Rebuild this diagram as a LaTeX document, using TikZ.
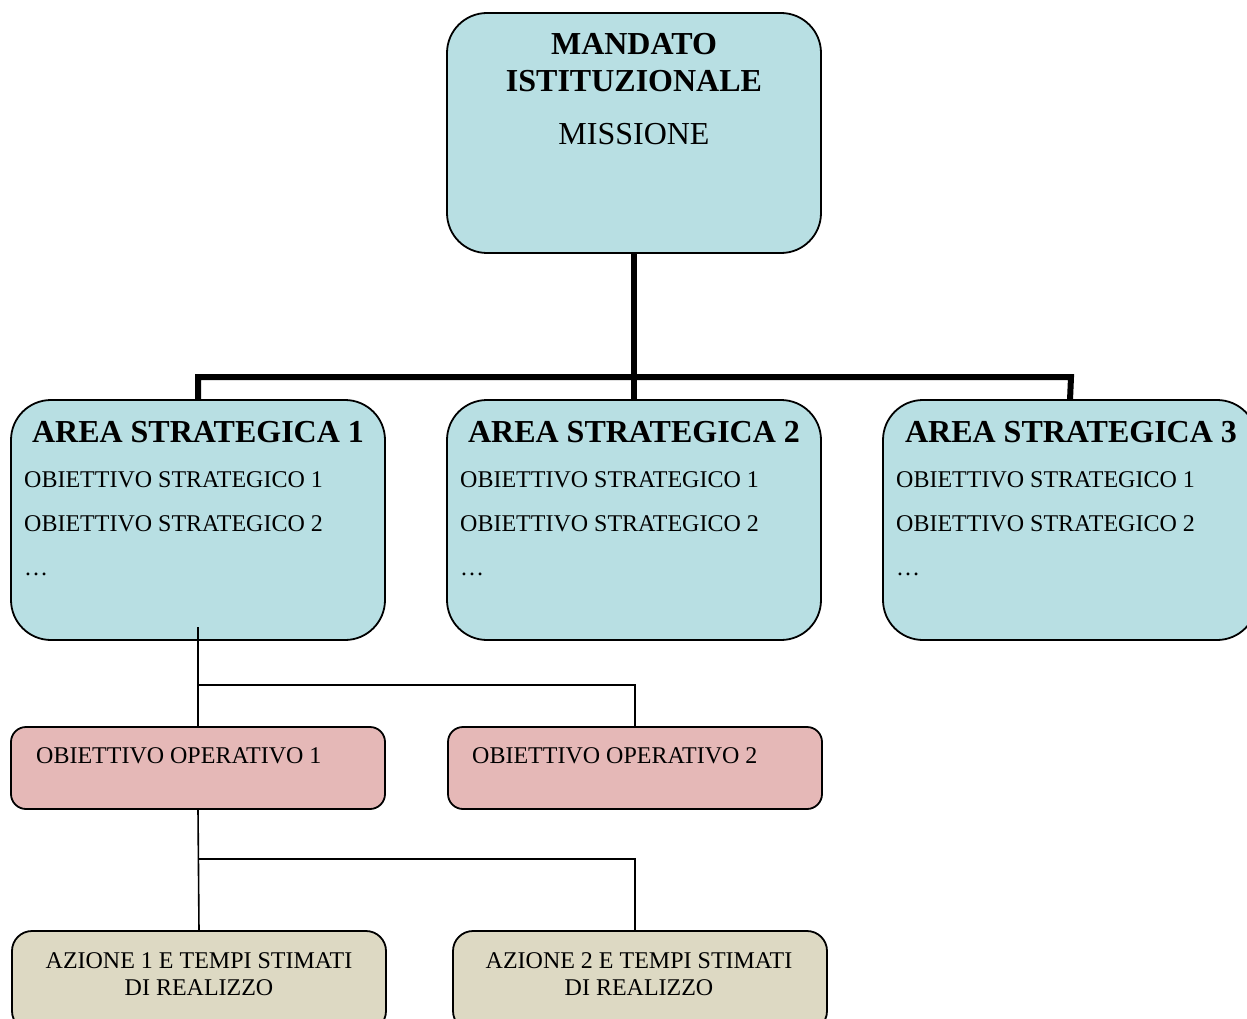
\documentclass[tikz,border=0pt]{standalone}
\usepackage{fontspec}
\setmainfont{Liberation Serif}
\definecolor{bluebox}{HTML}{B8DFE3}
\definecolor{pinkbox}{HTML}{E5B8B7}
\definecolor{beigebox}{HTML}{DDD9C3}
\begin{document}
\begin{tikzpicture}[x=1pt,y=-1pt,
  boxbase/.style={draw=black,line width=1.8pt,anchor=north west,inner sep=0pt,outer sep=0pt},
  bigbox/.style={boxbase,fill=bluebox,rounded corners=40pt,minimum width=374pt,minimum height=240pt},
  opbox/.style={boxbase,fill=pinkbox,rounded corners=15pt,minimum width=374pt,minimum height=82pt},
  actbox/.style={boxbase,fill=beigebox,rounded corners=20pt,minimum width=374pt,minimum height=100pt},
  txt/.style={inner sep=0pt,font=\fontsize{24}{28}\selectfont},
  bigtxt/.style={inner sep=0pt,font=\fontsize{32}{38}\selectfont\bfseries},
  thickline/.style={line width=6pt,line join=miter},
  thinline/.style={line width=1.6pt}]
\useasboundingbox (0,0) rectangle (1247,1019);
\clip (0,0) rectangle (1247,1019);
\fill[white] (0,0) rectangle (1247,1019);

% boxes
\node[bigbox] (top) at (447,13) {};
\node[bigbox] (a1) at (11,400) {};
\node[bigbox] (a2) at (447,400) {};
\node[bigbox] (a3) at (883,400) {};
\node[opbox] (o1) at (11,727) {};
\node[opbox] (o2) at (448,727) {};
\node[actbox] (z1) at (12,931) {};
\node[actbox] (z2) at (453,931) {};

% top texts
\node[bigtxt,anchor=base] (t1) at (634,55) {MANDATO};
\node[bigtxt,anchor=base] (t2) at (634,92) {ISTITUZIONALE};
\node[txt,anchor=base,font=\fontsize{32}{38}\selectfont] (t3) at (634,145) {MISSIONE};

% area texts
\node[bigtxt,anchor=base] (a1h) at (198,442) {AREA STRATEGICA 1};
\node[txt,anchor=base west] (a1s1) at (24,487) {OBIETTIVO STRATEGICO 1};
\node[txt,anchor=base west] (a1s2) at (24,531) {OBIETTIVO STRATEGICO 2};
\node[txt,anchor=base west] (a1s3) at (24,575) {…};

\node[bigtxt,anchor=base] (a2h) at (634,442) {AREA STRATEGICA 2};
\node[txt,anchor=base west] (a2s1) at (460,487) {OBIETTIVO STRATEGICO 1};
\node[txt,anchor=base west] (a2s2) at (460,531) {OBIETTIVO STRATEGICO 2};
\node[txt,anchor=base west] (a2s3) at (460,575) {…};

\node[bigtxt,anchor=base] (a3h) at (1071,442) {AREA STRATEGICA 3};
\node[txt,anchor=base west] (a3s1) at (896,487) {OBIETTIVO STRATEGICO 1};
\node[txt,anchor=base west] (a3s2) at (896,531) {OBIETTIVO STRATEGICO 2};
\node[txt,anchor=base west] (a3s3) at (896,575) {…};

% operative texts
\node[txt,anchor=base west] (o1t) at (36,763) {OBIETTIVO OPERATIVO 1};
\node[txt,anchor=base west] (o2t) at (472,763) {OBIETTIVO OPERATIVO 2};

% action texts
\node[txt,anchor=base] (z1a) at (199,968) {AZIONE 1 E TEMPI STIMATI};
\node[txt,anchor=base] (z1b) at (199,995) {DI REALIZZO};
\node[txt,anchor=base] (z2a) at (639,968) {AZIONE 2 E TEMPI STIMATI};
\node[txt,anchor=base] (z2b) at (639,995) {DI REALIZZO};

% thick connectors
\coordinate (h1) at (198,377);
\coordinate (h3) at (1071,377);
\draw[thickline] (top.south) -- (a2.north);
\draw[thickline] (a1.north) -- (h1) -- (h3) -- (a3.north);

% thin connectors level 2
\coordinate (s1) at (198,627);
\coordinate (k1) at (198,685);
\coordinate (s2) at (197.5,645);
\coordinate (s3) at (197.5,689);
\draw[thinline] (s1) -- (o1.north);
\draw[thinline] (s2) -- (s3);
\draw[thinline] (k1) -| (o2.north);

% thin connectors level 3
\coordinate (k2) at (199,859);
\coordinate (z2in) at (635,931);
\draw[thinline] (o1.south) -- (z1.north);
\draw[thinline] (k2) -| (z2in);
\end{tikzpicture}
\end{document}
